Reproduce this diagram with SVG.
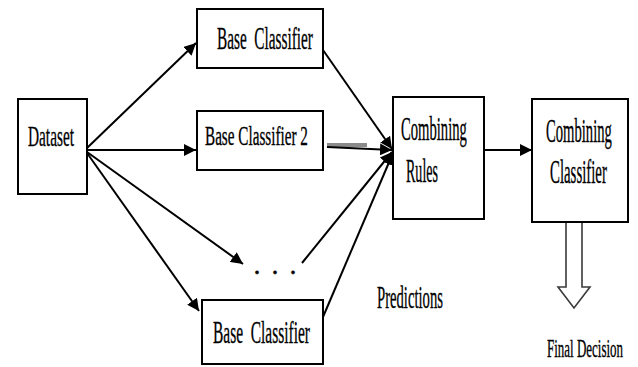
<svg xmlns="http://www.w3.org/2000/svg" width="638" height="367" viewBox="0 0 638 367">
  <style>
    .box { fill: #ffffff; stroke: #000000; stroke-width: 2; }
    .lbl { font-family: "Liberation Serif", "Times New Roman", serif; fill: #000000; stroke: #000000; stroke-width: 0.35; white-space: pre; }
    .edge { stroke: #000000; stroke-width: 2; fill: none; }
  </style>
  <defs>
    <marker id="head" markerUnits="userSpaceOnUse" markerWidth="14" markerHeight="12" refX="12" refY="6" orient="auto">
      <path d="M0,0 L12,6 L0,12 Z" fill="#000000"/>
    </marker>
  </defs>

  <rect width="638" height="367" fill="#ffffff"/>

  <!-- connectors -->
  <g id="connectors">
    <line class="edge" x1="87" y1="148" x2="196" y2="43" marker-end="url(#head)"/>
    <line class="edge" x1="87" y1="150" x2="196" y2="150" marker-end="url(#head)"/>
    <line class="edge" x1="87" y1="152" x2="243" y2="264" marker-end="url(#head)"/>
    <line class="edge" x1="87" y1="153" x2="199" y2="311" marker-end="url(#head)"/>

    <line class="edge" x1="323" y1="50" x2="392" y2="149" marker-end="url(#head)"/>
    <line x1="327" y1="145" x2="367" y2="145" stroke="#8a8a8a" stroke-width="4"/>
    <line class="edge" x1="327" y1="147" x2="392" y2="150" marker-end="url(#head)"/>
    <line class="edge" x1="302" y1="263" x2="392" y2="152" marker-end="url(#head)"/>
    <line class="edge" x1="323" y1="317" x2="393" y2="153" marker-end="url(#head)"/>

    <line class="edge" x1="484" y1="150" x2="532" y2="150" marker-end="url(#head)"/>

    <!-- hollow downward arrow -->
    <path d="M566,222 L566,287 L558,287 L574,308 L590,287 L582,287 L582,222" fill="#ffffff" stroke="#3a3a3a" stroke-width="1.6" stroke-linejoin="miter"/>
  </g>

  <!-- nodes (labels are set in a narrow, horizontally condensed serif) -->
  <g id="dataset">
    <rect class="box" x="18" y="99" width="69" height="95"/>
    <text class="lbl" font-size="30" transform="translate(28,146) scale(0.511,1)">Dataset</text>
  </g>

  <g id="base-classifier-1">
    <rect class="box" x="197" y="9" width="126" height="59"/>
    <text class="lbl" font-size="32" transform="translate(217,49) scale(0.478,1)">Base  Classifier</text>
  </g>

  <g id="base-classifier-2">
    <rect class="box" x="197" y="111" width="126" height="59"/>
    <text class="lbl" font-size="27" transform="translate(205,145) scale(0.563,1)">Base Classifier 2</text>
  </g>

  <g id="ellipsis">
    <text class="lbl" x="253.5" y="274" font-size="28" letter-spacing="2">. . .</text>
  </g>

  <g id="base-classifier-n">
    <rect class="box" x="202" y="300" width="121" height="64"/>
    <text class="lbl" font-size="32" transform="translate(213,343) scale(0.483,1)">Base  Classifier</text>
  </g>

  <g id="combining-rules">
    <rect class="box" x="393" y="97" width="91" height="122"/>
    <text class="lbl" font-size="34" transform="translate(401,140) scale(0.431,1)">Combining</text>
    <text class="lbl" font-size="34" transform="translate(406,182) scale(0.413,1)">Rules</text>
  </g>

  <g id="combining-classifier">
    <rect class="box" x="532" y="99" width="96" height="123"/>
    <text class="lbl" font-size="34" transform="translate(546,142) scale(0.431,1)">Combining</text>
    <text class="lbl" font-size="34" transform="translate(550,183) scale(0.437,1)">Classifier</text>
  </g>

  <g id="predictions">
    <text class="lbl" font-size="32" transform="translate(377,308) scale(0.458,1)">Predictions</text>
  </g>

  <g id="final-decision">
    <text class="lbl" font-size="25" transform="translate(547,357) scale(0.519,1)">Final Decision</text>
  </g>
</svg>
